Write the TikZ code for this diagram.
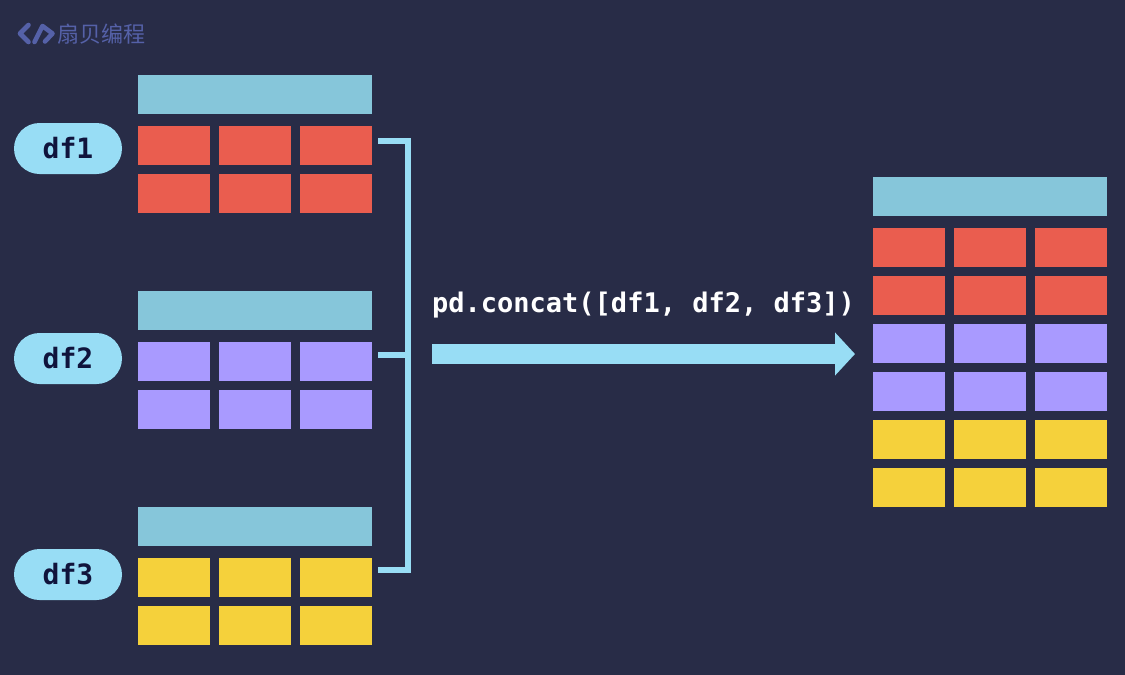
\documentclass[tikz,border=0pt]{standalone}
\usepackage{fontspec}
\usetikzlibrary{arrows.meta}
\setmonofont{DejaVu Sans Mono}
\newfontfamily\cjk{Noto Sans CJK SC}
\definecolor{bg}{HTML}{282C47}
\definecolor{hd}{HTML}{86C6DA}
\definecolor{rd}{HTML}{EA5D4F}
\definecolor{pu}{HTML}{A99AFF}
\definecolor{ye}{HTML}{F5D13B}
\definecolor{sky}{HTML}{98DDF5}
\definecolor{logo}{HTML}{5561A8}
\definecolor{ink}{HTML}{10143C}
\tikzset{
 x=1pt,y=-1pt,
 box/.style={anchor=north west,inner sep=0,outer sep=0,minimum width=#1,draw=none},
 hcell/.style={box=234pt,minimum height=39pt,fill=hd},
 cell/.style={box=72pt,minimum height=39pt},
 tag/.style={rounded corners=25.5pt,fill=sky,minimum width=108pt,minimum height=51pt,inner sep=0,text=ink,font=\ttfamily\bfseries\fontsize{28}{32}\selectfont},
 bracket/.style={draw=sky,line width=5.5pt},
 bigarrow/.style={draw=sky,line width=20pt,-{Triangle[length=20pt,width=42pt]}},
 code/.style={text=white,inner sep=0,font=\ttfamily\bfseries\fontsize{27}{32}\selectfont},
}
\newcommand{\tablecells}[4]{% prefix, x, y, colour
  \node[hcell] (#1h) at (#2,#3) {};
  \foreach \r/\ry in {1/51,2/99}{
    \foreach \c/\cx in {1/0,2/81,3/162}{
      \node[cell,fill=#4] (#1r\r c\c) at ({#2+\cx},{#3+\ry}) {};
    }
  }
}
\begin{document}
\begin{tikzpicture}
\useasboundingbox (0,0) rectangle (1125,675);
\fill[bg] (0,0) rectangle (1125,675);
% logo
\draw[logo,line width=4.6pt,line join=round,line cap=round] (28.5,25) -- (20,33.5) -- (28.5,42);
\draw[logo,line width=4.6pt,line join=round,line cap=round] (34.5,42) -- (42.5,26) -- (52.5,33.5) -- (45,41.5);
\node[anchor=west,inner sep=0,text=logo,font=\cjk\fontsize{22}{24}\selectfont] (brand) at (57,34) {扇贝编程};
% tables
\tablecells{a}{138}{75}{rd}
\tablecells{b}{138}{291}{pu}
\tablecells{c}{138}{507}{ye}
\node[hcell] (rh) at (873,177) {};
\foreach \r/\ry/\col in {1/228/rd,2/276/rd,3/324/pu,4/372/pu,5/420/ye,6/468/ye}{
  \foreach \c/\cx in {1/873,2/954,3/1035}{
    \node[cell,fill=\col] (r\r c\c) at (\cx,\ry) {};
  }
}
% tags
\node[tag] (df1) at (68,148.5) {df1};
\node[tag] (df2) at (68,358.5) {df2};
\node[tag] (df3) at (68,574.5) {df3};
% bracket
\coordinate (s1) at (378,141);
\coordinate (s2) at (378,355);
\coordinate (s3) at (378,570);
\coordinate (m) at (408,355);
\draw[bracket] (s1) -- (s1-|m) -- (s3-|m) -- (s3);
\draw[bracket] (s2) -- (m);
% arrow
\coordinate (a1) at (432,354);
\coordinate (a2) at (855,354);
\draw[bigarrow] (a1) -- (a2);
\node[code,anchor=base west] (cmd) at (432,312) {pd.concat([df1, df2, df3])};
\end{tikzpicture}
\end{document}
